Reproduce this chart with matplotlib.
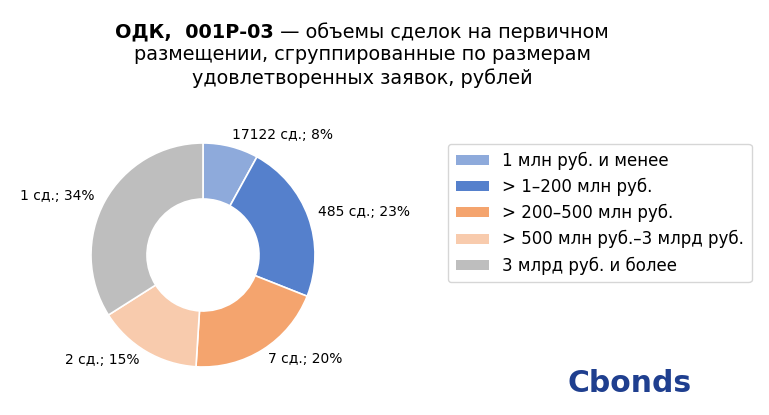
import matplotlib
matplotlib.use("Agg")
import matplotlib.pyplot as plt
from matplotlib.patches import Patch

categories = ["1 млн руб. и менее", "> 1–200 млн руб.", "> 200–500 млн руб.",
              "> 500 млн руб.–3 млрд руб.", "3 млрд руб. и более"]
deals = ["17122", "485", "7", "2", "1"]
shares = [8, 23, 20, 15, 34]
colors = ["#8eaadb", "#5580cc", "#f4a46e", "#f8cbad", "#bebebe"]

# label positions in pie-radius units (layout)
label_pos = [(0.71, 1.07), (1.44, 0.38), (0.91, -0.93), (-0.90, -0.94), (-1.30, 0.53)]

W, H = 769, 415
fig = plt.figure(figsize=(W / 100, H / 100), dpi=100)

# pie axes: center (203,255) px, radius 112 px
R = 112
lim = 1.8
size = 2 * lim * R
cx, cy = 203, H - 255
ax = fig.add_axes([(cx - size / 2) / W, (cy - size / 2) / H, size / W, size / H])
ax.pie(shares, colors=colors, startangle=90, counterclock=False, radius=1,
       wedgeprops=dict(width=0.5, edgecolor="white", linewidth=1.2))
ax.set_xlim(-lim, lim)
ax.set_ylim(-lim, lim)
ax.set_aspect("equal")
ax.axis("off")
for (x, y), d, s in zip(label_pos, deals, shares):
    ax.text(x, y, f"{d} сд.; {s}%", ha="center", va="center", fontsize=10, color="#000000")

# title
fig.canvas.draw()
renderer = fig.canvas.get_renderer()
tsize = 13.9
bold_part = "ОДК,  001Р-03"
normal_part = " — объемы сделок на первичном"
t1 = fig.text(0, 0, bold_part, fontsize=tsize, fontweight="bold")
t2 = fig.text(0, 0, normal_part, fontsize=tsize)
w1 = t1.get_window_extent(renderer).width
w2 = t2.get_window_extent(renderer).width
start = 362 - (w1 + w2) / 2
y1 = H - 32
t1.set_position((start / W, y1 / H))
t1.set_va("center")
t2.set_position(((start + w1) / W, y1 / H))
t2.set_va("center")
fig.text(362 / W, (H - 55) / H, "размещении, сгруппированные по размерам",
         fontsize=tsize, ha="center", va="center")
fig.text(362 / W, (H - 78) / H, "удовлетворенных заявок, рублей",
         fontsize=tsize, ha="center", va="center")

# legend
handles = [Patch(facecolor=c, edgecolor="none") for c in colors]
leg = fig.legend(handles, categories, loc="upper left",
                 bbox_to_anchor=(448 / W, (H - 144) / H), borderaxespad=0,
                 fontsize=12, handlelength=2.0, handleheight=0.55, handletextpad=0.8,
                 labelspacing=0.48, borderpad=0.45, frameon=True, fancybox=True)
leg.get_frame().set_edgecolor("#cccccc")
leg.get_frame().set_linewidth(1.0)

# logo
fig.text(630 / W, (H - 383) / H, "Cbonds", fontsize=21.5, fontweight="bold",
         color="#1f3f8f", ha="center", va="center", family="DejaVu Sans")

fig.savefig("out.png", dpi=100)
